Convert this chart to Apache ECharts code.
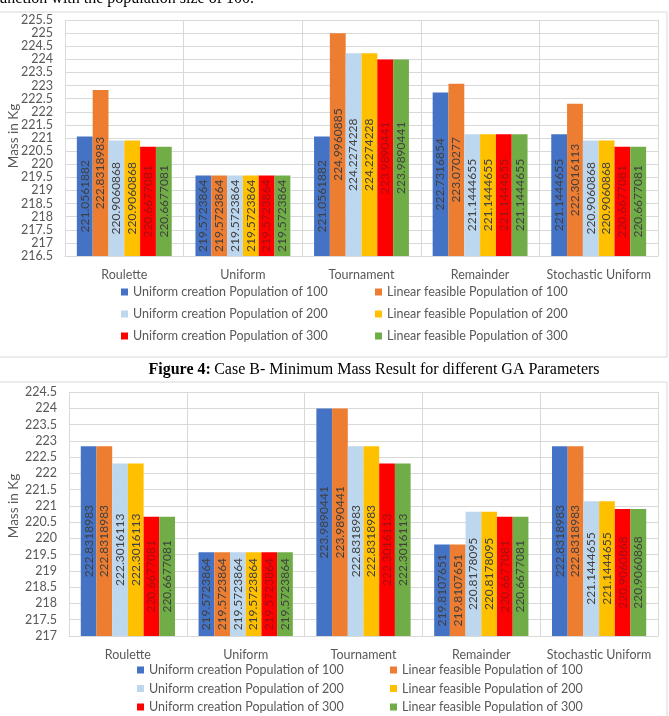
<!DOCTYPE html>
<html>
<head>
<meta charset="utf-8">
<script src="https://cdn.jsdelivr.net/npm/echarts@6/dist/echarts.min.js"></script>
<style>
html,body{margin:0;padding:0;background:#fff;}
#c{width:669px;height:716px;}
</style>
</head>
<body>
<div id="c"></div>
<script>
var categories = ['Roulette', 'Uniform', 'Tournament', 'Remainder', 'Stochastic Uniform'];
var seriesNames = ['Uniform creation Population of 100', 'Linear feasible Population of 100',
  'Uniform creation Population of 200', 'Linear feasible Population of 200',
  'Uniform creation Population of 300', 'Linear feasible Population of 300'];
var colors = ['#4472C4', '#ED7D31', '#BDD7EE', '#FFC000', '#FF0000', '#70AD47'];
var yAxisTitle = 'Mass in Kg';

// Chart 1 (top)
var top_uc100 = [221.0561882, 219.5723864, 221.0561882, 222.7316854, 221.1444655];
var top_lf100 = [222.8318983, 219.5723864, 224.9960885, 223.070277, 222.3016113];
var top_uc200 = [220.9060868, 219.5723864, 224.2274228, 221.1444655, 220.9060868];
var top_lf200 = [220.9060868, 219.5723864, 224.2274228, 221.1444655, 220.9060868];
var top_uc300 = [220.6677081, 219.5723864, 223.9890441, 221.1444655, 220.6677081];
var top_lf300 = [220.6677081, 219.5723864, 223.9890441, 221.1444655, 220.6677081];

// Chart 2 (bottom)
var bot_uc100 = [222.8318983, 219.5723864, 223.9890441, 219.8107651, 222.8318983];
var bot_lf100 = [222.8318983, 219.5723864, 223.9890441, 219.8107651, 222.8318983];
var bot_uc200 = [222.3016113, 219.5723864, 222.8318983, 220.8178095, 221.1444655];
var bot_lf200 = [222.3016113, 219.5723864, 222.8318983, 220.8178095, 221.1444655];
var bot_uc300 = [220.6677081, 219.5723864, 222.3016113, 220.6677081, 220.9060868];
var bot_lf300 = [220.6677081, 219.5723864, 222.3016113, 220.6677081, 220.9060868];

var topData = [top_uc100, top_lf100, top_uc200, top_lf200, top_uc300, top_lf300];
var botData = [bot_uc100, bot_lf100, bot_uc200, bot_lf200, bot_uc300, bot_lf300];

var FONT = 'Lato';
var labelColors = ['#404040', '#404040', '#404040', '#404040', '#A01010', '#404040'];
var series = [];
function addSeries(dataSets, axisIdx) {
  for (var i = 0; i < 6; i++) {
    series.push({
      name: seriesNames[i],
      type: 'bar',
      xAxisIndex: axisIdx,
      yAxisIndex: axisIdx,
      data: dataSets[i],
      barGap: '0%',
      barCategoryGap: '20%',
      itemStyle: { color: colors[i] },
      label: {
        show: true,
        position: 'inside',
        rotate: 90,
        color: labelColors[i],
        fontFamily: FONT,
        fontSize: 12,
        formatter: function (p) { return String(p.value); }
      },
      silent: true,
      animation: false
    });
  }
}
addSeries(topData, 0);
addSeries(botData, 1);

function xAxisCfg(gi, margin) {
  return {
    type: 'category', gridIndex: gi, data: categories,
    axisLine: { show: true, lineStyle: { color: '#D9D9D9' } },
    axisTick: { show: false },
    splitLine: { show: true, lineStyle: { color: '#D9D9D9' } },
    axisLabel: { color: '#595959', fontFamily: FONT, fontSize: 12.5, margin: margin, interval: 0 }
  };
}
function yAxisCfg(gi, min, max) {
  return {
    type: 'value', gridIndex: gi, min: min, max: max, interval: 0.5,
    axisLine: { show: false }, axisTick: { show: false },
    splitLine: { show: true, lineStyle: { color: '#D9D9D9' } },
    axisLabel: { color: '#595959', fontFamily: FONT, fontSize: 12.5, margin: 12 }
  };
}
function legendCfg(names, left, top, gap) {
  return {
    orient: 'vertical', left: left, top: top, padding: 0,
    itemWidth: 7, itemHeight: 7, itemGap: gap, icon: 'rect',
    selectedMode: false,
    data: names,
    textStyle: { color: '#595959', fontFamily: FONT, fontSize: 12.5, lineHeight: 14 }
  };
}
var col1 = [seriesNames[0], seriesNames[2], seriesNames[4]];
var col2 = [seriesNames[1], seriesNames[3], seriesNames[5]];

function yTitle(x, y) {
  return { type: 'text', x: x, y: y, rotation: Math.PI / 2,
    style: { text: yAxisTitle, fontFamily: FONT, fontSize: 13.5, fill: '#595959', align: 'center', verticalAlign: 'middle' } };
}

var chart = echarts.init(document.getElementById('c'), null, { renderer: 'canvas' });
chart.setOption({
  animation: false,
  color: colors,
  grid: [
    { left: 65, right: 11, top: 20, height: 236, containLabel: false, outerBoundsMode: 'none' },
    { left: 69, right: 11, top: 392, height: 244, containLabel: false, outerBoundsMode: 'none' }
  ],
  xAxis: [xAxisCfg(0, 12), xAxisCfg(1, 12)],
  yAxis: [yAxisCfg(0, 216.5, 225.5), yAxisCfg(1, 217, 224.5)],
  legend: [
    legendCfg(col1, 121, 285, 8),
    legendCfg(col2, 375, 285, 8),
    legendCfg(col1, 137, 663, 4.5),
    legendCfg(col2, 390, 663, 4.5)
  ],
  graphic: [
    { type: 'rect', shape: { x: -1, y: 12, width: 668, height: 345 },
      style: { fill: 'none', stroke: '#D9D9D9', lineWidth: 1 }, z: -10 },
    { type: 'rect', shape: { x: -1, y: 382, width: 668, height: 400 },
      style: { fill: 'none', stroke: '#D9D9D9', lineWidth: 1 }, z: -10 },
    yTitle(14, 136),
    yTitle(14, 506),
    { type: 'text', x: -6, y: 7,
      style: { text: 'function with the population size of 100.', font: '16px "Liberation Serif"', fill: '#000', verticalAlign: 'bottom' } },
    { type: 'text', x: 374, y: 370,
      style: {
        text: '{b|Figure 4:} {n|Case B- Minimum Mass Result for different GA Parameters}',
        align: 'center', verticalAlign: 'middle',
        rich: {
          b: { fontFamily: 'Liberation Serif', fontSize: 16, fontWeight: 'bold', fill: '#000' },
          n: { fontFamily: 'Liberation Serif', fontSize: 16, fill: '#000' }
        }
      } }
  ],
  series: series
});
</script>
</body>
</html>
